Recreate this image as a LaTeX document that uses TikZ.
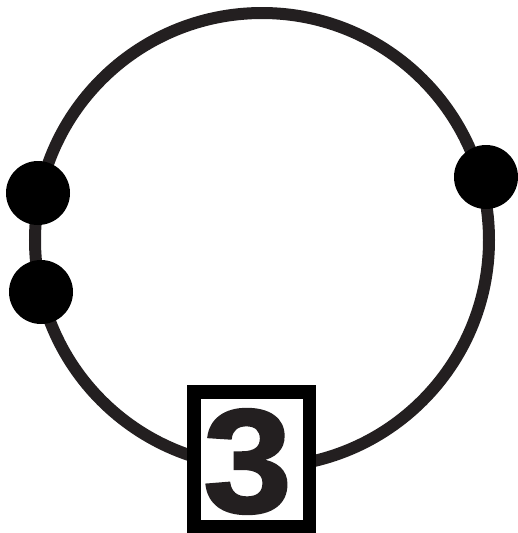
\documentclass[tikz,border=0pt]{standalone}
\usepackage{fontspec}
\newfontfamily\heavy[FakeBold=1.6]{Liberation Sans Bold}
\definecolor{ring}{HTML}{231F20}
\begin{document}
\begin{tikzpicture}[x=1pt,y=-1pt,
  dot/.style={circle,fill=black,inner sep=0pt,minimum size=64pt},
  numbox/.style={draw=black,fill=white,line width=13.5pt,rectangle,inner sep=0pt,
    minimum width=115.5pt,minimum height=134.5pt,text=ring,font=\heavy\fontsize{150}{150}\selectfont}]
\useasboundingbox (0,0) rectangle (517,533);
\node[circle,draw=ring,line width=12pt,minimum size=454pt,inner sep=0pt] (ring) at (262,240) {};
\node[dot] (d1) at (38,193) {};
\node[dot] (d2) at (41,292) {};
\node[dot] (d3) at (486,177) {};
\node[numbox] (box) at (251.5,459) {};
\node[inner sep=0pt,text=ring,font=\heavy\fontsize{148}{148}\selectfont,xscale=1.08] (three) at (247.5,461.5) {3};
\end{tikzpicture}
\end{document}
